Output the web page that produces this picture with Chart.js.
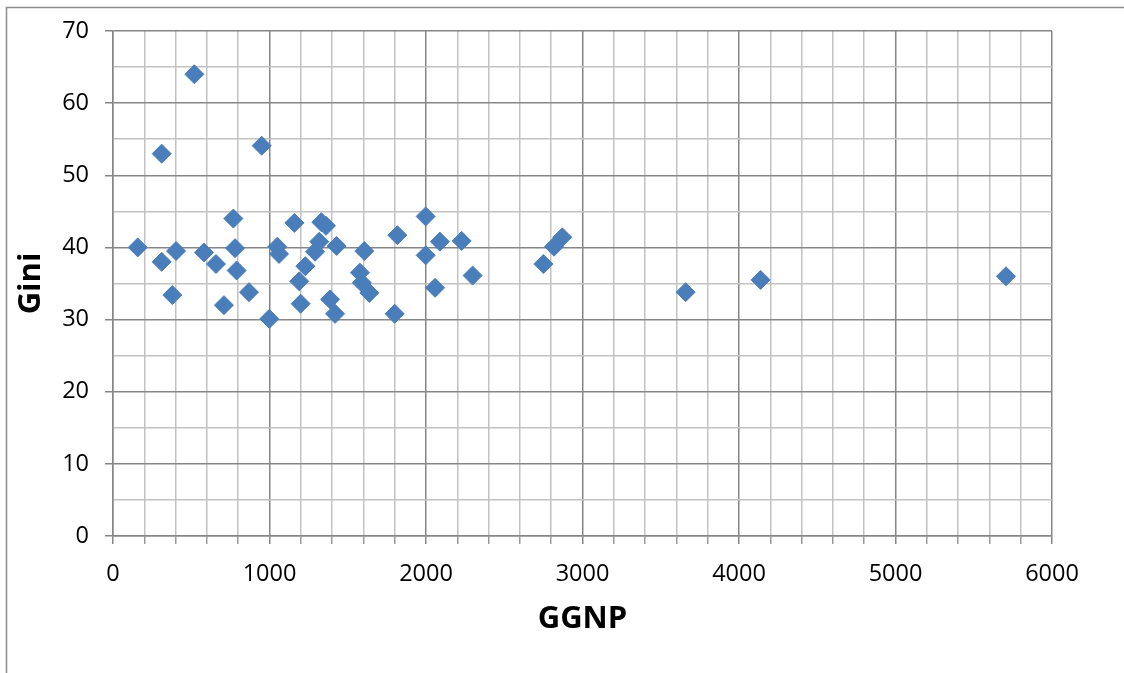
<!DOCTYPE html>
<html>
<head>
<meta charset="utf-8">
<title>Gini vs GGNP</title>
<script src="https://cdn.jsdelivr.net/npm/chart.js@4.4.0/dist/chart.umd.min.js"></script>
<style>
  html, body { margin: 0; padding: 0; background: #ffffff; }
  #wrap { width: 1124px; height: 673px; }
</style>
</head>
<body>
<div id="wrap"><canvas id="chart" width="1124" height="673"></canvas></div>
<script>
// GGNP per country (x) and the matching Gini index (y)
const ggnp = [
  158, 311, 311, 379, 403, 520, 581, 658, 709, 769,
  780, 790, 869, 950, 999, 1050, 1061, 1159, 1190, 1199,
  1229, 1291, 1318, 1331, 1361, 1387, 1419, 1429, 1578, 1590,
  1638, 1606, 1800, 1817, 1998, 1998, 2058, 2089, 2228, 2298,
  2750, 2818, 2871, 3659, 4138, 5706
];
const gini = [
  40.0, 53.0, 38.0, 33.4, 39.5, 64.0, 39.3, 37.7, 32.0, 44.0,
  39.9, 36.8, 33.8, 54.1, 30.1, 40.1, 39.1, 43.4, 35.3, 32.2,
  37.4, 39.4, 40.8, 43.5, 43.0, 32.8, 30.8, 40.2, 36.5, 35.1,
  33.7, 39.5, 30.8, 41.7, 44.3, 38.9, 34.4, 40.8, 40.9, 36.1,
  37.7, 40.1, 41.4, 33.8, 35.5, 36.0
];

// Labelled tick values; the other grid lines are minor divisions
const xLabelTicks = [0, 1000, 2000, 3000, 4000, 5000, 6000];
const yLabelTicks = [0, 10, 20, 30, 40, 50, 60, 70];

const MAJOR = '#868686';
const MINOR = '#c2c2c2';
const FONT = "'Open Sans', 'Liberation Sans', sans-serif";

// White page with the chart frame running off to the right and bottom
const framePlugin = {
  id: 'frame',
  beforeDraw(chart) {
    const ctx = chart.ctx;
    ctx.save();
    ctx.fillStyle = '#ffffff';
    ctx.fillRect(0, 0, chart.width, chart.height);
    ctx.strokeStyle = '#8c8c8c';
    ctx.lineWidth = 1.5;
    ctx.beginPath();
    ctx.moveTo(6.5, chart.height + 2);
    ctx.lineTo(6.5, 7.5);
    ctx.lineTo(chart.width + 2, 7.5);
    ctx.stroke();
    ctx.restore();
  }
};

const points = ggnp.map((x, i) => ({ x: x, y: gini[i] }));

new Chart(document.getElementById('chart'), {
  type: 'scatter',
  data: {
    datasets: [{
      label: 'Gini',
      data: points,
      pointStyle: 'rectRot',
      pointRadius: 9.5,
      pointHoverRadius: 9.5,
      backgroundColor: '#4a7ebb',
      borderColor: '#4a7ebb',
      borderWidth: 1
    }]
  },
  options: {
    responsive: false,
    animation: false,
    events: [],
    layout: { padding: { top: 31, right: 72, bottom: 0, left: 0 } },
    plugins: {
      legend: { display: false },
      tooltip: { enabled: false }
    },
    scales: {
      x: {
        type: 'linear',
        position: 'bottom',
        min: 0,
        max: 6000,
        afterFit(scale) { scale.height = 137; },
        ticks: {
          stepSize: 200,
          autoSkip: false,
          maxRotation: 0,
          padding: 16,
          color: '#000000',
          font: { family: FONT, size: 23.5 },
          callback: (v) => xLabelTicks.includes(v) ? String(v) : ''
        },
        grid: {
          color: (c) => (c.tick && c.tick.value % 1000 === 0) ? MAJOR : MINOR,
          tickColor: (c) => (c.tick && c.tick.value % 1000 === 0) ? MAJOR : '#9a9a9a',
          lineWidth: 1.5,
          tickLength: 8
        },
        border: { color: MAJOR, width: 1.5 },
        title: {
          display: true,
          text: 'GGNP',
          color: '#000000',
          font: { family: FONT, size: 31, weight: 'bold' },
          padding: { top: 0, bottom: 35 }
        }
      },
      y: {
        type: 'linear',
        min: 0,
        max: 70,
        afterFit(scale) { scale.width = 113; },
        ticks: {
          stepSize: 5,
          autoSkip: false,
          padding: 16,
          color: '#000000',
          font: { family: FONT, size: 23.5 },
          callback: (v) => yLabelTicks.includes(v) ? String(v) : ''
        },
        grid: {
          color: (c) => (c.tick && c.tick.value % 10 === 0) ? MAJOR : MINOR,
          tickColor: (c) => (c.tick && c.tick.value % 10 === 0) ? MAJOR : 'rgba(0,0,0,0)',
          lineWidth: 1.5,
          tickLength: 8
        },
        border: { color: MAJOR, width: 1.5 },
        title: {
          display: true,
          text: 'Gini',
          color: '#000000',
          font: { family: FONT, size: 31, weight: 'bold' },
          padding: { top: 13, bottom: 0 }
        }
      }
    }
  },
  plugins: [framePlugin]
});
</script>
</body>
</html>
